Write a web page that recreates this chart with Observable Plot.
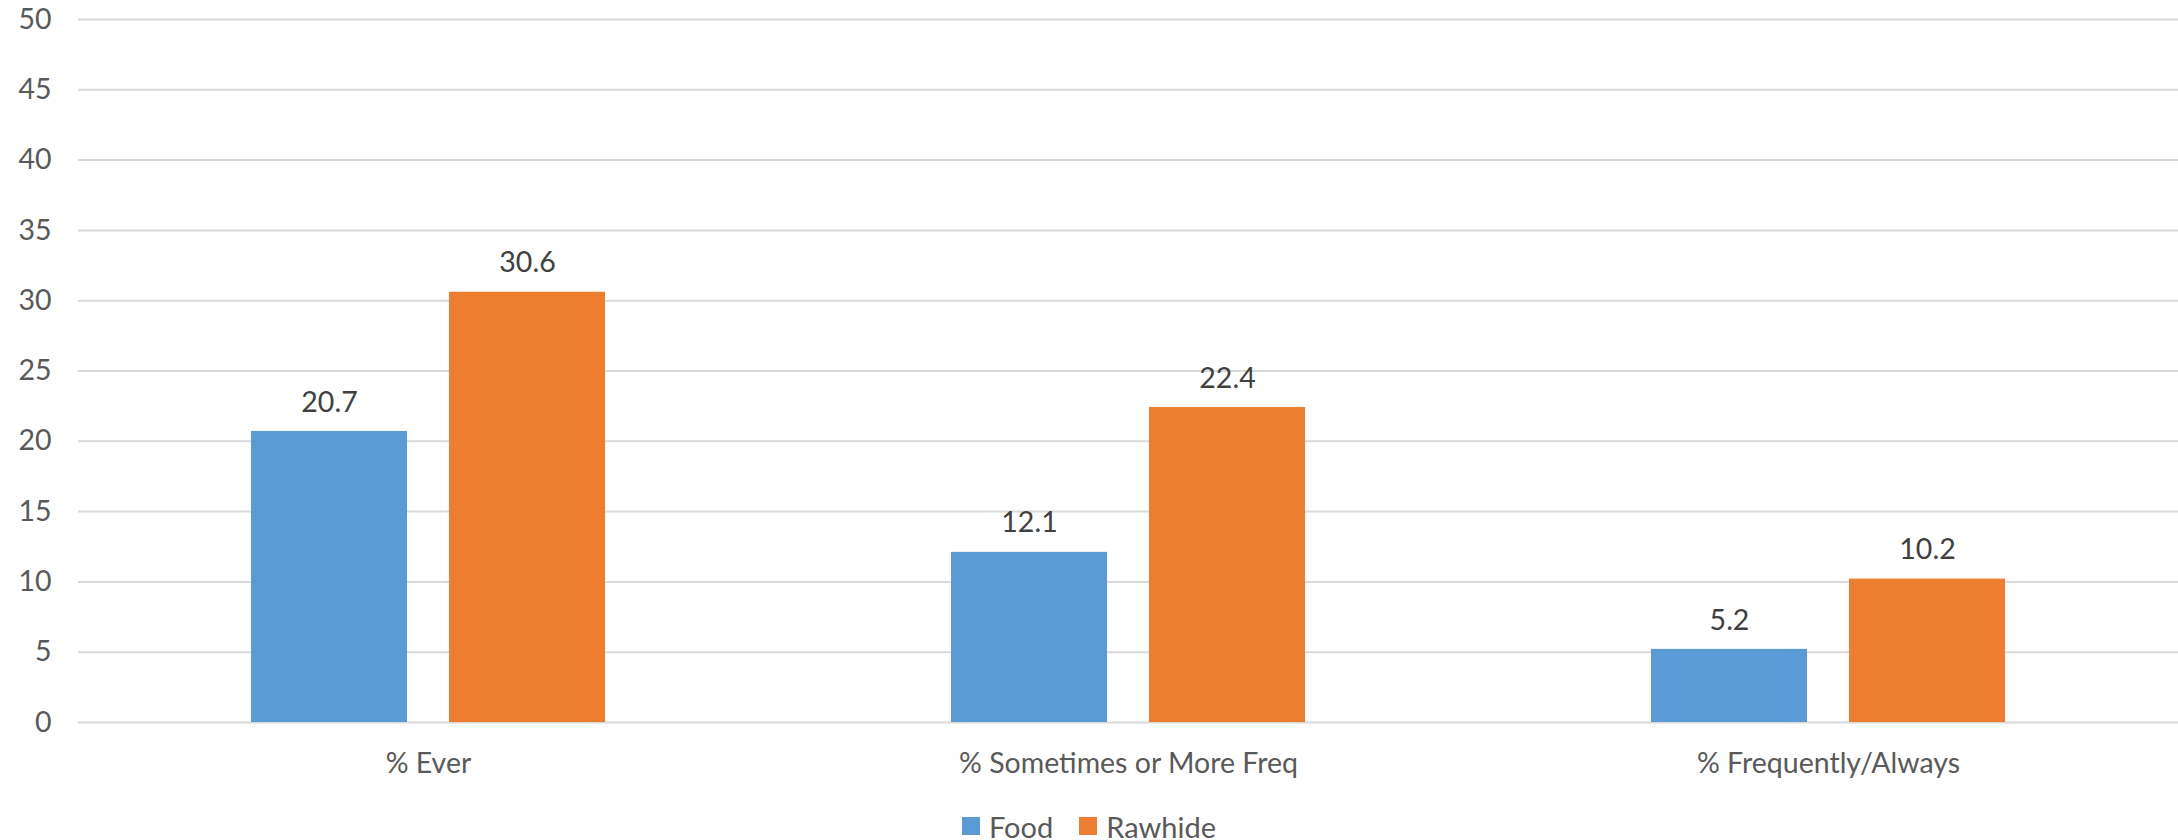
<!DOCTYPE html>
<html>
<head>
<meta charset="utf-8">
<script src="https://cdn.jsdelivr.net/npm/d3@7"></script>
<script src="https://cdn.jsdelivr.net/npm/@observablehq/plot@0.6"></script>
<style>
  html, body { margin: 0; padding: 0; background: #fff; }
  body { width: 2178px; height: 840px; overflow: hidden; font-family: Lato, "Open Sans", sans-serif; }
  #legend { display: flex; justify-content: center; align-items: center; height: 46px; margin-top: 8px; font-size: 29px; color: #595959; }
  .item { display: flex; align-items: center; margin: 0 13px; }
  .sw { width: 18px; height: 18px; margin-right: 9px; }
</style>
</head>
<body>
<div id="chart"></div>
<div id="legend"></div>
<script>
const categories = ["% Ever", "% Sometimes or More Freq", "% Frequently/Always"];
const series = ["Food", "Rawhide"];
const foodValues = [20.7, 12.1, 5.2];
const rawhideValues = [30.6, 22.4, 10.2];
const colors = ["#5B9BD5", "#ED7D31"];
const yTicks = [0, 5, 10, 15, 20, 25, 30, 35, 40, 45, 50];

const data = [];
categories.forEach((c, i) => {
  data.push({category: c, series: "Food", value: foodValues[i]});
  data.push({category: c, series: "Rawhide", value: rawhideValues[i]});
});

const font = "Lato, 'Open Sans', sans-serif";

const chart = Plot.plot({
  width: 2178,
  height: 795,
  marginLeft: 77,
  marginRight: 0,
  marginTop: 19,
  marginBottom: 73,
  style: {fontFamily: font, fontSize: "28.5px", color: "#595959", background: "#fff"},
  fx: {domain: categories, padding: 0, axis: "bottom", label: null, tickSize: 0, tickPadding: 30},
  x: {domain: series, paddingInner: 0.21, paddingOuter: 0.864, axis: null},
  y: {domain: [0, 50], axis: null},
  color: {domain: series, range: colors},
  marks: [
    Plot.gridY(yTicks, {stroke: "#d9d9d9", strokeOpacity: 1, strokeWidth: 2}),
    Plot.axisY(yTicks, {facetAnchor: "left", tickSize: 0, tickPadding: 27, label: null, fontSize: 28.5, fill: "#595959"}),
    Plot.barY(data, {fx: "category", x: "series", y: "value", fill: "series"}),
    Plot.text(data, {fx: "category", x: "series", y: "value", text: d => d.value.toFixed(1), dy: -29, lineAnchor: "middle", fontSize: 28.5, fill: "#404040"})
  ]
});
document.getElementById("chart").appendChild(chart);

const legend = document.getElementById("legend");
series.forEach((s, i) => {
  const item = document.createElement("div");
  item.className = "item";
  const sw = document.createElement("div");
  sw.className = "sw";
  sw.style.background = colors[i];
  const label = document.createElement("span");
  label.textContent = s;
  item.appendChild(sw);
  item.appendChild(label);
  legend.appendChild(item);
});
</script>
</body>
</html>
